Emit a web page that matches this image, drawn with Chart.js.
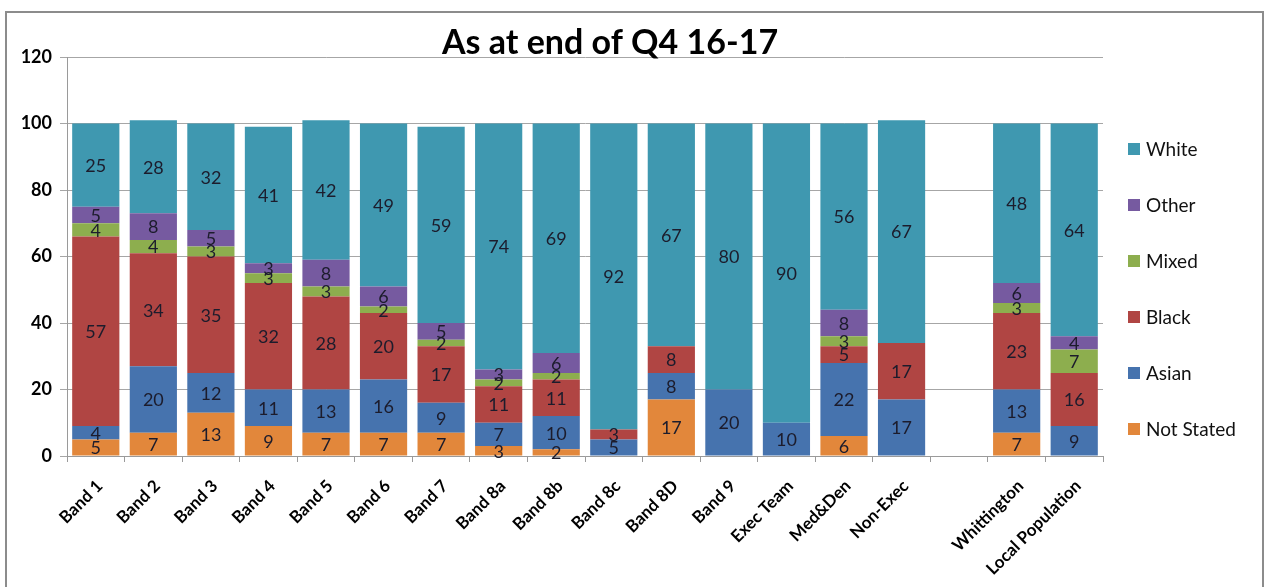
<!DOCTYPE html>
<html>
<head>
<meta charset="utf-8">
<title>As at end of Q4 16-17</title>
<script src="https://cdn.jsdelivr.net/npm/chart.js@4/dist/chart.umd.min.js"></script>
<style>
  html, body { margin: 0; padding: 0; background: #fff; }
  #wrap { position: relative; width: 1265px; height: 587px; }
</style>
</head>
<body>
<div id="wrap"><canvas id="chart" width="1265" height="587"></canvas></div>
<script>
// staff groups, blank slot separates the trust totals
const CATEGORIES = ['Band 1', 'Band 2', 'Band 3', 'Band 4', 'Band 5', 'Band 6', 'Band 7', 'Band 8a', 'Band 8b',
  'Band 8c', 'Band 8D', 'Band 9', 'Exec Team', 'Med&Den', 'Non-Exec', '', 'Whittington', 'Local Population'];

const NOT_STATED = [5, 7, 13, 9, 7, 7, 7, 3, 2, 0, 17, 0, 0, 6, 0, null, 7, 0];
const ASIAN      = [4, 20, 12, 11, 13, 16, 9, 7, 10, 5, 8, 20, 10, 22, 17, null, 13, 9];
const BLACK      = [57, 34, 35, 32, 28, 20, 17, 11, 11, 3, 8, 0, 0, 5, 17, null, 23, 16];
const MIXED      = [4, 4, 3, 3, 3, 2, 2, 2, 2, 0, 0, 0, 0, 3, 0, null, 3, 7];
const OTHER      = [5, 8, 5, 3, 8, 6, 5, 3, 6, 0, 0, 0, 0, 8, 0, null, 6, 4];
const WHITE      = [25, 28, 32, 41, 42, 49, 59, 74, 69, 92, 67, 80, 90, 56, 67, null, 48, 64];

const Y_TICKS = [0, 20, 40, 60, 80, 100, 120];

const FONT = 'Lato, "Open Sans", sans-serif';

const series = [
  { label: 'Not Stated', data: NOT_STATED, color: '#E2873B' },
  { label: 'Asian',      data: ASIAN,      color: '#4673AE' },
  { label: 'Black',      data: BLACK,      color: '#B04543' },
  { label: 'Mixed',      data: MIXED,      color: '#8DAE4E' },
  { label: 'Other',      data: OTHER,      color: '#765AA0' },
  { label: 'White',      data: WHITE,      color: '#3F98B0' },
];

// white background and the grey frame round the chart
const frame = {
  id: 'frame',
  beforeDraw(chart) {
    const ctx = chart.ctx;
    ctx.save();
    ctx.fillStyle = '#fff';
    ctx.fillRect(0, 0, chart.width, chart.height);
    ctx.strokeStyle = '#8c8c8c';
    ctx.lineWidth = 2;
    ctx.strokeRect(6, 12, 1257, 600);
    ctx.restore();
  }
};

// value written in the middle of each segment
const segmentLabels = {
  id: 'segmentLabels',
  afterDatasetsDraw(chart) {
    const ctx = chart.ctx;
    ctx.save();
    ctx.font = '18px ' + FONT;
    ctx.fillStyle = '#1c1c2c';
    ctx.textAlign = 'center';
    ctx.textBaseline = 'middle';
    chart.data.datasets.forEach((ds, i) => {
      const meta = chart.getDatasetMeta(i);
      meta.data.forEach((bar, j) => {
        const v = ds.data[j];
        if (!v) return;
        ctx.fillText(String(v), bar.x, (bar.y + bar.base) / 2 + 1);
      });
    });
    ctx.restore();
  }
};

// title and legend, legend listed top-down from White
const decorations = {
  id: 'decorations',
  afterDraw(chart) {
    const ctx = chart.ctx;
    ctx.save();
    ctx.fillStyle = '#000';
    ctx.font = 'bold 34px ' + FONT;
    ctx.textAlign = 'center';
    ctx.textBaseline = 'alphabetic';
    ctx.fillText('As at end of Q4 16-17', 610, 54);

    ctx.font = '19px ' + FONT;
    ctx.textAlign = 'left';
    ctx.textBaseline = 'middle';
    const items = chart.data.datasets.slice().reverse();
    items.forEach((ds, i) => {
      const y = 149 + i * 56;
      ctx.fillStyle = ds.backgroundColor;
      ctx.fillRect(1128, y - 6, 12, 12);
      ctx.fillStyle = '#111';
      ctx.fillText(ds.label, 1146, y + 1);
    });
    ctx.restore();
  }
};

new Chart(document.getElementById('chart'), {
  type: 'bar',
  data: {
    labels: CATEGORIES,
    datasets: series.map(s => ({
      label: s.label,
      data: s.data,
      backgroundColor: s.color,
      borderWidth: 0,
      categoryPercentage: 1,
      barPercentage: 0.82
    }))
  },
  options: {
    responsive: false,
    animation: false,
    layout: { padding: { left: 10, top: 57, right: 162, bottom: 10 } },
    plugins: {
      legend: { display: false },
      title: { display: false },
      tooltip: { enabled: false }
    },
    scales: {
      x: {
        stacked: true,
        afterFit(scale) { scale.height = 121; },
        grid: { drawOnChartArea: false, color: '#9a9a9a', tickLength: 6 },
        border: { color: '#9a9a9a' },
        ticks: {
          autoSkip: false,
          minRotation: 45,
          maxRotation: 45,
          padding: 14,
          labelOffset: 4,
          color: '#000',
          font: { family: FONT, size: 17, weight: 'bold' }
        }
      },
      y: {
        stacked: true,
        min: 0,
        max: 120,
        afterFit(scale) { scale.width = 57; },
        afterBuildTicks(scale) { scale.ticks = Y_TICKS.map(v => ({ value: v })); },
        grid: { color: '#a6a6a6', tickLength: 7 },
        border: { color: '#9a9a9a' },
        ticks: {
          padding: 8,
          color: '#000',
          font: { family: FONT, size: 18, weight: 'bold' }
        }
      }
    }
  },
  plugins: [frame, segmentLabels, decorations]
});
</script>
</body>
</html>
